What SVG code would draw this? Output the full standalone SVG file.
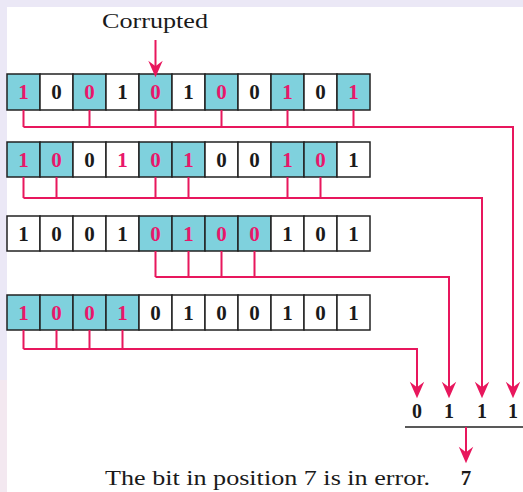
<svg xmlns="http://www.w3.org/2000/svg" width="523" height="492" viewBox="0 0 523 492">
<style>
.c{stroke:#222;stroke-width:1.5;fill:#fff}
.h{fill:#7fd1dd}
.d{font-family:"Liberation Serif",serif;font-weight:bold;font-size:21px;text-anchor:middle;fill:#1a1a1a}
.p{fill:#e8176a}
.ln{stroke:#e8175d;stroke-width:2;fill:none}
.ar{stroke:#e8175d;stroke-width:2;fill:none;marker-end:url(#ah)}
.t{font-family:"Liberation Serif",serif;font-size:21px;fill:#1a1a1a}
</style>
<defs>
<marker id="ah" markerUnits="userSpaceOnUse" markerWidth="20" markerHeight="20" viewBox="-16 -8 18 16" refX="-3" refY="0" orient="auto">
<path d="M0,0 L-15,-6.5 L-10,0 L-15,6.5 Z" fill="#e8175d"/>
</marker>
</defs>
<rect width="523" height="492" fill="#ebe8f6"/>
<rect x="7" y="7" width="516" height="485" fill="#fff"/>
<rect x="0" y="380" width="7" height="112" fill="#f3e8f0"/>

<g id="label-corrupted">
<text class="t" x="102" y="28" textLength="106" lengthAdjust="spacingAndGlyphs">Corrupted</text>
</g>

<g id="row1">
<rect class="c h" x="7" y="74" width="33" height="36"/>
<rect class="c" x="40" y="74" width="33" height="36"/>
<rect class="c h" x="73" y="74" width="33" height="36"/>
<rect class="c" x="106" y="74" width="33" height="36"/>
<rect class="c h" x="139" y="74" width="33" height="36"/>
<rect class="c" x="172" y="74" width="33" height="36"/>
<rect class="c h" x="205" y="74" width="33" height="36"/>
<rect class="c" x="238" y="74" width="33" height="36"/>
<rect class="c h" x="271" y="74" width="33" height="36"/>
<rect class="c" x="304" y="74" width="33" height="36"/>
<rect class="c h" x="337" y="74" width="33" height="36"/>
<text class="d p" x="23.5" y="99">1</text>
<text class="d" x="56.5" y="99">0</text>
<text class="d p" x="89.5" y="99">0</text>
<text class="d" x="122.5" y="99">1</text>
<text class="d p" x="155.5" y="99">0</text>
<text class="d" x="188.5" y="99">1</text>
<text class="d p" x="221.5" y="99">0</text>
<text class="d" x="254.5" y="99">0</text>
<text class="d p" x="287.5" y="99">1</text>
<text class="d" x="320.5" y="99">0</text>
<text class="d p" x="353.5" y="99">1</text>
</g>

<g id="row2">
<rect class="c h" x="7" y="142" width="33" height="35"/>
<rect class="c h" x="40" y="142" width="33" height="35"/>
<rect class="c" x="73" y="142" width="33" height="35"/>
<rect class="c" x="106" y="142" width="33" height="35"/>
<rect class="c h" x="139" y="142" width="33" height="35"/>
<rect class="c h" x="172" y="142" width="33" height="35"/>
<rect class="c" x="205" y="142" width="33" height="35"/>
<rect class="c" x="238" y="142" width="33" height="35"/>
<rect class="c h" x="271" y="142" width="33" height="35"/>
<rect class="c h" x="304" y="142" width="33" height="35"/>
<rect class="c" x="337" y="142" width="33" height="35"/>
<text class="d p" x="23.5" y="167">1</text>
<text class="d p" x="56.5" y="167">0</text>
<text class="d" x="89.5" y="167">0</text>
<text class="d p" x="122.5" y="167">1</text>
<text class="d p" x="155.5" y="167">0</text>
<text class="d p" x="188.5" y="167">1</text>
<text class="d" x="221.5" y="167">0</text>
<text class="d" x="254.5" y="167">0</text>
<text class="d p" x="287.5" y="167">1</text>
<text class="d p" x="320.5" y="167">0</text>
<text class="d" x="353.5" y="167">1</text>
</g>

<g id="row3">
<rect class="c" x="7" y="216" width="33" height="35"/>
<rect class="c" x="40" y="216" width="33" height="35"/>
<rect class="c" x="73" y="216" width="33" height="35"/>
<rect class="c" x="106" y="216" width="33" height="35"/>
<rect class="c h" x="139" y="216" width="33" height="35"/>
<rect class="c h" x="172" y="216" width="33" height="35"/>
<rect class="c h" x="205" y="216" width="33" height="35"/>
<rect class="c h" x="238" y="216" width="33" height="35"/>
<rect class="c" x="271" y="216" width="33" height="35"/>
<rect class="c" x="304" y="216" width="33" height="35"/>
<rect class="c" x="337" y="216" width="33" height="35"/>
<text class="d" x="23.5" y="241">1</text>
<text class="d" x="56.5" y="241">0</text>
<text class="d" x="89.5" y="241">0</text>
<text class="d" x="122.5" y="241">1</text>
<text class="d p" x="155.5" y="241">0</text>
<text class="d p" x="188.5" y="241">1</text>
<text class="d p" x="221.5" y="241">0</text>
<text class="d p" x="254.5" y="241">0</text>
<text class="d" x="287.5" y="241">1</text>
<text class="d" x="320.5" y="241">0</text>
<text class="d" x="353.5" y="241">1</text>
</g>

<g id="row4">
<rect class="c h" x="7" y="295" width="33" height="35"/>
<rect class="c h" x="40" y="295" width="33" height="35"/>
<rect class="c h" x="73" y="295" width="33" height="35"/>
<rect class="c h" x="106" y="295" width="33" height="35"/>
<rect class="c" x="139" y="295" width="33" height="35"/>
<rect class="c" x="172" y="295" width="33" height="35"/>
<rect class="c" x="205" y="295" width="33" height="35"/>
<rect class="c" x="238" y="295" width="33" height="35"/>
<rect class="c" x="271" y="295" width="33" height="35"/>
<rect class="c" x="304" y="295" width="33" height="35"/>
<rect class="c" x="337" y="295" width="33" height="35"/>
<text class="d p" x="23.5" y="320">1</text>
<text class="d p" x="56.5" y="320">0</text>
<text class="d p" x="89.5" y="320">0</text>
<text class="d p" x="122.5" y="320">1</text>
<text class="d" x="155.5" y="320">0</text>
<text class="d" x="188.5" y="320">1</text>
<text class="d" x="221.5" y="320">0</text>
<text class="d" x="254.5" y="320">0</text>
<text class="d" x="287.5" y="320">1</text>
<text class="d" x="320.5" y="320">0</text>
<text class="d" x="353.5" y="320">1</text>
</g>

<g id="connectors">
<line class="ar" x1="155.5" y1="40" x2="155.5" y2="74"/>
<path class="ln" d="M23.5,110V127M89.5,110V127M155.5,110V127M221.5,110V127M287.5,110V127M353.5,110V127"/>
<path class="ar" d="M23.5,127H513V395"/>
<path class="ln" d="M23.5,177V198M56.5,177V198M155.5,177V198M188.5,177V198M287.5,177V198M320.5,177V198"/>
<path class="ar" d="M23.5,198H482V395"/>
<path class="ln" d="M155.5,251V277M188.5,251V277M221.5,251V277M254.5,251V277"/>
<path class="ar" d="M155.5,277H449V395"/>
<path class="ln" d="M23.5,330V349M56.5,330V349M89.5,330V349M122.5,330V349"/>
<path class="ar" d="M23.5,349H417V395"/>
<line x1="405" y1="427" x2="523" y2="427" stroke="#222" stroke-width="1.5"/>
<line class="ar" x1="466" y1="427" x2="466" y2="460"/>
</g>

<g id="result">
<text class="d" x="417" y="418" style="font-size:20px">0</text>
<text class="d" x="449" y="418" style="font-size:20px">1</text>
<text class="d" x="482" y="418" style="font-size:20px">1</text>
<text class="d" x="513" y="418" style="font-size:20px">1</text>
<text class="t" x="105" y="485" textLength="325" lengthAdjust="spacingAndGlyphs">The bit in position 7 is in error.</text>
<text class="d" x="466" y="485" style="font-size:21px">7</text>
</g>
</svg>
